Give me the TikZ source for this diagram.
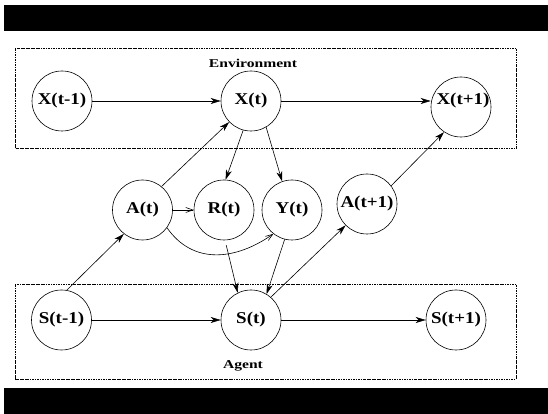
\documentclass[tikz,border=0pt]{standalone}
\usepackage{fontspec}
\usetikzlibrary{arrows.meta}
\newfontfamily\nodefont{Liberation Serif Bold}[FakeStretch=1.15]
\newfontfamily\boxfont{Liberation Serif Bold}[FakeStretch=1.3]
\begin{document}
\begin{tikzpicture}[x=1pt,y=1pt,
  state/.style={circle,draw,line width=0.6pt,minimum size=60pt,inner sep=0pt,font=\nodefont\fontsize{16.5}{19}\selectfont},
  lbl/.style={font=\nodefont\fontsize{16.5}{19}\selectfont},
  boxlbl/.style={font=\boxfont\fontsize{12}{14}\selectfont},
  region/.style={draw,line width=0.5pt,dash pattern=on 2.5pt off 1pt on 0.6pt off 1pt},
  bar/.style={fill=black},
  arr/.style={line width=0.6pt,-{Stealth[length=10pt,width=6pt,inset=3pt]}},
  openarr/.style={line width=0.6pt,-{Straight Barb[length=7pt,width=5pt]}}]
\useasboundingbox (0,0) rectangle (548,414);
\fill[bar] (4,383) rectangle (548,409);
\fill[bar] (4,0) rectangle (548,26);
\draw[region] (15,266) rectangle (516,366);
\draw[region] (15,35) rectangle (516,130);
\node[boxlbl] (env) at (253,351) {Environment};
\node[boxlbl] (agent) at (243,48) {Agent};
% nodes
\node[state] (X1) at (62,313) {X(t-1)};
\node[state] (X2) at (251,313) {X(t)};
\node[state,label={[lbl,yshift=6pt,xshift=2pt]center:X(t+1)}] (X3) at (461,307) {};
\node[state] (A) at (142.5,204) {A(t)};
\node[state] (R) at (224,204) {R(t)};
\node[state] (Y) at (292,204) {Y(t)};
\node[state] (A2) at (367,210) {A(t+1)};
\node[state] (S1) at (61.5,94) {S(t-1)};
\node[state] (S2) at (251,94) {S(t)};
\node[state] (S3) at (456,94) {S(t+1)};
% edges
\draw[arr] (X1) -- (X2);
\draw[arr] (X2.east) -- (X3.west |- X2.east);
\draw[arr] (S1) -- (S2);
\draw[arr] (S2) -- (S3);
\draw[arr] (A.51) -- (X2.224);
\draw[arr] (X2.-105) -- (R.87);
\draw[arr] (X2.-60) -- (Y.109);
\draw[openarr] (A) -- (R);
\draw[openarr] (A.-36) to[out=-55,in=-145,looseness=1.1] (Y.-128);
\draw[arr] (S1.80) -- (A.232);
\draw[arr,shorten <=5pt] (R.-88) -- (S2.116);
\draw[arr] (Y.256) -- (S2.59);
\draw[arr] (S2.49) -- (A2.225);
\draw[arr] (A2.37) -- (X3.236);
\end{tikzpicture}
\end{document}
